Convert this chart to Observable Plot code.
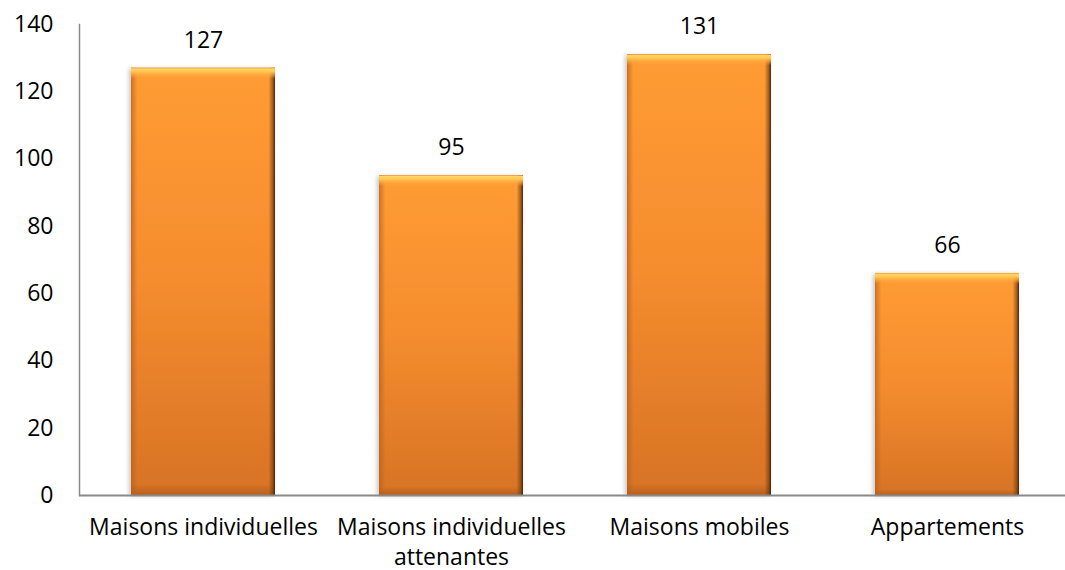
<!DOCTYPE html>
<html>
<head>
<meta charset="utf-8">
<script src="https://cdn.jsdelivr.net/npm/d3@7"></script>
<script src="https://cdn.jsdelivr.net/npm/@observablehq/plot@0.6"></script>
<style>
  html, body { margin: 0; padding: 0; background: #fff; }
  #chart svg { display: block; }
</style>
</head>
<body>
<div id="chart"></div>
<script>
const categories = ["Maisons individuelles", "Maisons individuelles attenantes", "Maisons mobiles", "Appartements"];
const tickLabels = ["Maisons individuelles", "Maisons individuelles\nattenantes", "Maisons mobiles", "Appartements"];
const values = [127, 95, 131, 66];
const yTicks = [0, 20, 40, 60, 80, 100, 120, 140];

const data = categories.map((c, i) => ({cat: c, value: values[i]}));
const labelOf = new Map(categories.map((c, i) => [c, tickLabels[i]]));

const font = "'Open Sans', Lato, sans-serif";
const fs = 23;

const plot = Plot.plot({
  width: 1065,
  height: 570,
  marginLeft: 79,
  marginRight: 0,
  marginTop: 24,
  marginBottom: 75,
  style: {fontFamily: font, fontSize: fs + "px", color: "#000", background: "#fff", overflow: "visible"},
  x: {domain: categories, range: [78, 1073], paddingInner: 0.418, paddingOuter: 0.209, label: null},
  y: {domain: [0, 140], label: null},
  marks: [
    Plot.barY(data, {x: "cat", y: "value", fill: "url(#barGrad)", stroke: "none"}),
    Plot.barY(data, {x: "cat", y: "value", fill: "url(#edgeGrad)", stroke: "none"}),
    Plot.barY(data, {x: "cat", y1: "value", y2: "value", insetBottom: -11, fill: "url(#topGrad)", stroke: "none"}),
    Plot.frame({anchor: "left", stroke: "#8a8a8a", strokeWidth: 1.5}),
    Plot.ruleY([0], {stroke: "#8a8a8a", strokeWidth: 2}),
    Plot.axisY({ticks: yTicks, tickSize: 0, tickPadding: 26, tickFormat: d => String(d), fontSize: fs, label: null}),
    Plot.axisX({tickSize: 0, tickPadding: 18, tickFormat: d => labelOf.get(d), fontSize: fs, lineHeight: 1.3, label: null}),
    Plot.text(data, {x: "cat", y: "value", text: d => String(d.value), dy: -28, fontSize: fs, fill: "#000"})
  ]
});

const ns = "http://www.w3.org/2000/svg";
const defs = document.createElementNS(ns, "defs");
defs.innerHTML = `
  <linearGradient id="barGrad" x1="0" y1="0" x2="0" y2="1">
    <stop offset="0" stop-color="#FF9C34"/>
    <stop offset="0.5" stop-color="#F58C2E"/>
    <stop offset="0.975" stop-color="#D87426"/>
    <stop offset="1" stop-color="#B8601C"/>
  </linearGradient>
  <linearGradient id="edgeGrad" x1="0" y1="0" x2="1" y2="0">
    <stop offset="0" stop-color="#B85F1A" stop-opacity="0.7"/>
    <stop offset="0.045" stop-color="#B85F1A" stop-opacity="0"/>
    <stop offset="0.955" stop-color="#6B3A10" stop-opacity="0"/>
    <stop offset="0.985" stop-color="#6B3A10" stop-opacity="0.65"/>
    <stop offset="1" stop-color="#3A1E06" stop-opacity="0.95"/>
  </linearGradient>
  <linearGradient id="topGrad" x1="0" y1="0" x2="0" y2="1">
    <stop offset="0" stop-color="#EE8824"/>
    <stop offset="0.1" stop-color="#FFD566"/>
    <stop offset="0.35" stop-color="#FFC652"/>
    <stop offset="0.7" stop-color="#FFAA3E" stop-opacity="0.6"/>
    <stop offset="1" stop-color="#FF9C34" stop-opacity="0"/>
  </linearGradient>
  <filter id="shadow" x="-10%" y="-10%" width="120%" height="120%">
    <feDropShadow dx="-2" dy="1" stdDeviation="2" flood-color="#000" flood-opacity="0.22"/>
  </filter>`;
plot.insertBefore(defs, plot.firstChild);
const firstBars = plot.querySelector("g[aria-label='bar']");
if (firstBars) firstBars.setAttribute("filter", "url(#shadow)");

document.getElementById("chart").appendChild(plot);
</script>
</body>
</html>
